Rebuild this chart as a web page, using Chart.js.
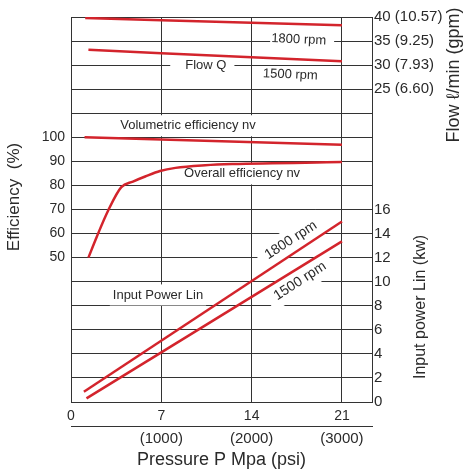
<!DOCTYPE html>
<html>
<head>
<meta charset="utf-8">
<script src="https://cdn.jsdelivr.net/npm/chart.js@4/dist/chart.umd.min.js"></script>
<style>
html,body{margin:0;padding:0;background:#ffffff;}
canvas{display:block;}
</style>
</head>
<body>
<canvas id="c" width="464" height="473"></canvas>
<script>
// ---- tick values / labels ----
const pressureTicks = [0, 7, 14, 21];
const psiTicks = [7, 14, 21];
const psiLabels = ['(1000)', '(2000)', '(3000)'];
const efficiencyTicks = [50, 60, 70, 80, 90, 100];
const powerTicks = [0, 2, 4, 6, 8, 10, 12, 14, 16];
const flowGridTicks = [0, 5, 10, 15, 20, 25, 30, 35, 40];
const flowLabelTicks = [25, 30, 35, 40];
const flowGpm = ['6.60', '7.93', '9.25', '10.57'];

// ---- series (pressure MPa -> value) ----
const flow1800P = [1.1, 7, 21];
const flow1800Q = [39.8, 39.35, 38.3];
const flow1500P = [1.35, 7, 21];
const flow1500Q = [33.2, 32.45, 30.8];
const volEffP = [1.05, 7, 21];
const volEffV = [100, 99.05, 96.9];
const overallEffP = [1.35, 2.0, 2.9, 3.9, 4.8, 5.75, 6.9, 8.1, 10.4, 12.5, 21];
const overallEffV = [50, 58.7, 69.8, 79.3, 81.6, 83.7, 86.0, 87.3, 88.4, 88.9, 89.7];
const power1800P = [1.0, 21];
const power1800L = [0.85, 15.0];
const power1500P = [1.2, 21];
const power1500L = [0.3, 13.35];

const pts = (xs, ys) => xs.map((x, i) => ({x: x, y: ys[i]}));

const FONT = "'Liberation Sans', Arial, Helvetica, sans-serif";
const GRID = '#333333';
const TXT = '#2a2a2a';
const RED = '#d3242c';

// in-plot labels (positions in data units)
const notes = [
  {text: 'Flow Q', axis: 'yFlow', x: 10.45, y: 29.9, size: 13, rot: 0, padL: 15, padR: 8, padV: 1},
  {text: '1800 rpm', axis: 'yFlow', x: 17.65, y: 35.3, size: 13, rot: 2.5, padL: 1, padR: 8, padV: 1},
  {text: '1500 rpm', axis: 'yFlow', x: 17.0, y: 28.0, size: 13, rot: 2.5, padL: 0, padR: 0, padV: 0},
  {text: 'Volumetric efficiency nv', axis: 'yEff', x: 9.07, y: 104.8, size: 13, rot: 0, padL: 3, padR: 3, padV: 4},
  {text: 'Overall efficiency nv', axis: 'yEff', x: 13.26, y: 84.8, size: 13, rot: 0, padL: 3, padR: 3, padV: 4},
  {text: 'Input Power Lin', axis: 'yPow', x: 6.74, y: 8.9, size: 13, rot: 0, padL: 3, padR: 3, padV: 4},
  {text: '1800 rpm', axis: 'yPow', x: 17.05, y: 13.45, size: 14, rot: -33, padL: 8, padR: 8, padV: 5},
  {text: '1500 rpm', axis: 'yPow', x: 17.75, y: 10.05, size: 14, rot: -33, padL: 8, padR: 8, padV: 5}
];

const sideTitles = [
  {text: 'Efficiency  (%)', x: 14, y: 197, size: 17},
  {text: 'Flow \u2113/min (gpm)', x: 454, y: 75, size: 18},
  {text: 'Input power Lin (kw)', x: 421, y: 307, size: 16}
];

const notesPlugin = {
  id: 'notes',
  beforeDatasetsDraw(chart) {
    const ctx = chart.ctx;
    const xs = chart.scales.x;
    ctx.save();
    notes.forEach(n => {
      const px = xs.getPixelForValue(n.x);
      const py = chart.scales[n.axis].getPixelForValue(n.y);
      ctx.save();
      ctx.translate(px, py);
      ctx.rotate(n.rot * Math.PI / 180);
      ctx.font = n.size + 'px ' + FONT;
      const w = ctx.measureText(n.text).width;
      const h = n.size;
      ctx.fillStyle = '#ffffff';
      ctx.fillRect(-w / 2 - n.padL, -h / 2 - n.padV, w + n.padL + n.padR, h + 2 * n.padV);
      ctx.fillStyle = TXT;
      ctx.textAlign = 'center';
      ctx.textBaseline = 'middle';
      ctx.fillText(n.text, 0, 0);
      ctx.restore();
    });
    ctx.restore();
  },
  afterDraw(chart) {
    const ctx = chart.ctx;
    sideTitles.forEach(t => {
      ctx.save();
      ctx.translate(t.x, t.y);
      ctx.rotate(-Math.PI / 2);
      ctx.font = t.size + 'px ' + FONT;
      ctx.fillStyle = TXT;
      ctx.textAlign = 'center';
      ctx.textBaseline = 'middle';
      ctx.fillText(t.text, 0, 0);
      ctx.restore();
    });
  }
};

const line = (data, axis, mono) => ({
  data: data,
  yAxisID: axis,
  xAxisID: 'x',
  borderColor: RED,
  backgroundColor: RED,
  borderWidth: 2.5,
  pointRadius: 0,
  fill: false,
  tension: 0,
  cubicInterpolationMode: mono ? 'monotone' : 'default'
});

const tickFont = (s) => ({family: FONT, size: s});

new Chart(document.getElementById('c'), {
  type: 'line',
  data: {
    datasets: [
      line(pts(flow1800P, flow1800Q), 'yFlow'),
      line(pts(flow1500P, flow1500Q), 'yFlow'),
      line(pts(volEffP, volEffV), 'yEff'),
      line(pts(overallEffP, overallEffV), 'yEff', true),
      line(pts(power1800P, power1800L), 'yPow'),
      line(pts(power1500P, power1500L), 'yPow')
    ]
  },
  options: {
    responsive: false,
    devicePixelRatio: 1,
    animation: false,
    layout: {padding: {top: 17, left: 0, right: 0, bottom: 0}},
    plugins: {legend: {display: false}, tooltip: {enabled: false}},
    scales: {
      x: {
        type: 'linear', position: 'bottom', min: 0, max: 23.33,
        afterBuildTicks: a => { a.ticks = pressureTicks.map(v => ({value: v})); },
        afterFit: a => { a.height = 24; },
        grid: {color: GRID, lineWidth: 1, drawTicks: false},
        border: {color: GRID, width: 1},
        ticks: {padding: 6, color: TXT, font: tickFont(14), maxRotation: 0, autoSkip: false}
      },
      x2: {
        type: 'linear', axis: 'x', position: 'bottom', min: 0, max: 23.33,
        afterBuildTicks: a => { a.ticks = psiTicks.map(v => ({value: v})); },
        afterFit: a => { a.height = 47; },
        grid: {display: false, drawTicks: false},
        border: {display: true, color: GRID, width: 1},
        ticks: {
          padding: 4, color: TXT, font: tickFont(15), maxRotation: 0, autoSkip: false,
          callback: v => { const i = psiTicks.indexOf(v); return i >= 0 ? psiLabels[i] : ''; }
        },
        title: {display: true, text: 'Pressure P Mpa (psi)', color: TXT, font: {family: FONT, size: 18}, padding: {top: 0, bottom: 2}}
      },
      yEff: {
        type: 'linear', position: 'left', min: -10, max: 150,
        afterBuildTicks: a => { a.ticks = efficiencyTicks.map(v => ({value: v})); },
        afterFit: a => { a.width = 71; },
        grid: {display: false, drawTicks: false},
        border: {display: true, color: GRID, width: 1},
        ticks: {padding: 6, color: TXT, font: tickFont(14), autoSkip: false}
      },
      yFlow: {
        type: 'linear', position: 'right', stack: 'rightStack', stackWeight: 1, min: 0, max: 40,
        afterBuildTicks: a => { a.ticks = flowGridTicks.map(v => ({value: v})); },
        afterFit: a => { a.width = 92; },
        grid: {color: GRID, lineWidth: 1, drawTicks: false},
        border: {display: true, color: GRID, width: 1},
        ticks: {
          padding: 2, color: TXT, font: tickFont(15), autoSkip: false,
          callback: v => { const i = flowLabelTicks.indexOf(v); return i >= 0 ? v + ' (' + flowGpm[i] + ')' : ''; }
        }
      },
      yPow: {
        type: 'linear', position: 'right', stack: 'rightStack', stackWeight: 1, min: 0, max: 16,
        afterBuildTicks: a => { a.ticks = powerTicks.map(v => ({value: v})); },
        afterFit: a => { a.width = 92; },
        grid: {color: GRID, lineWidth: 1, drawTicks: false},
        border: {display: true, color: GRID, width: 1},
        ticks: {padding: 2, color: TXT, font: tickFont(15), autoSkip: false}
      }
    }
  },
  plugins: [notesPlugin]
});
</script>
</body>
</html>
